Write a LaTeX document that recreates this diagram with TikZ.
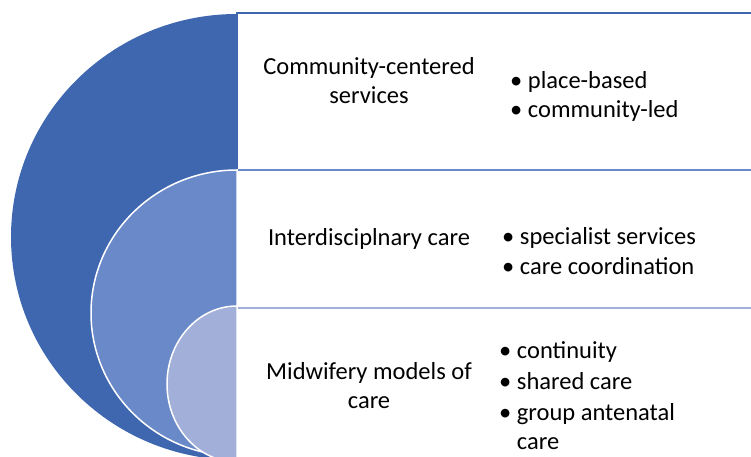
\documentclass[tikz,border=0pt]{standalone}
\usepackage{fontspec}
\setmainfont{Carlito}
\definecolor{darkblue}{RGB}{63,103,175}
\definecolor{midblue}{RGB}{106,137,200}
\definecolor{lightblue}{RGB}{161,175,217}
\tikzset{
	label/.style = {align=center, inner sep=0pt, font=\fontsize{24.5}{29}\selectfont},
	points/.style = {align=left, anchor=west, inner sep=0pt, font=\fontsize{24.5}{29}\selectfont},
	box/.style = {line width=2pt, fill=white}
}
\newcommand{\bul}[1]{\textbullet\ #1}

\begin{document}
\begin{tikzpicture} [x=1pt, y=1pt]
	\useasboundingbox (0,0) rectangle (751,457);
	\clip (0,0) rectangle (751,457);
	\fill [darkblue] (237,443) arc [start angle=90, end angle=270, x radius=226, y radius=223] -- cycle;
	\draw [box, draw=darkblue] (237,444) rectangle (770,287);
	\draw [box, draw=midblue] (237,287) rectangle (770,149);
	\draw [box, draw=lightblue] (237,149) rectangle (770,-10);
	\draw [white, line width=1.5pt, fill=midblue] (237,287) arc [start angle=90, end angle=270, x radius=146, y radius=143] -- cycle;
	\draw [white, line width=1.5pt, fill=lightblue] (237,151) arc [start angle=90, end angle=270, x radius=70, y radius=78] -- cycle;
	\node [label] (community) at (369,376.5) {Community-centered\\services};
	\node [label] (interdisc) at (369,218) {Interdisciplnary care};
	\node [label] (midwifery) at (369,71) {Midwifery models of\\care};
	\node [points] (communitypts) at (510,361) {\bul{place-based}\\ \bul{community-led}};
	\node [points] (interdiscpts) at (502,205.5) {\bul{specialist services}\\[1pt] \bul{care coordination}};
	\node [points] (midwiferypts) at (499,61) {\bul{continuity}\\[2pt] \bul{shared care}\\[2pt] \bul{group antenatal}\\ \phantom{\textbullet\ }care};
\end{tikzpicture}
\end{document}
